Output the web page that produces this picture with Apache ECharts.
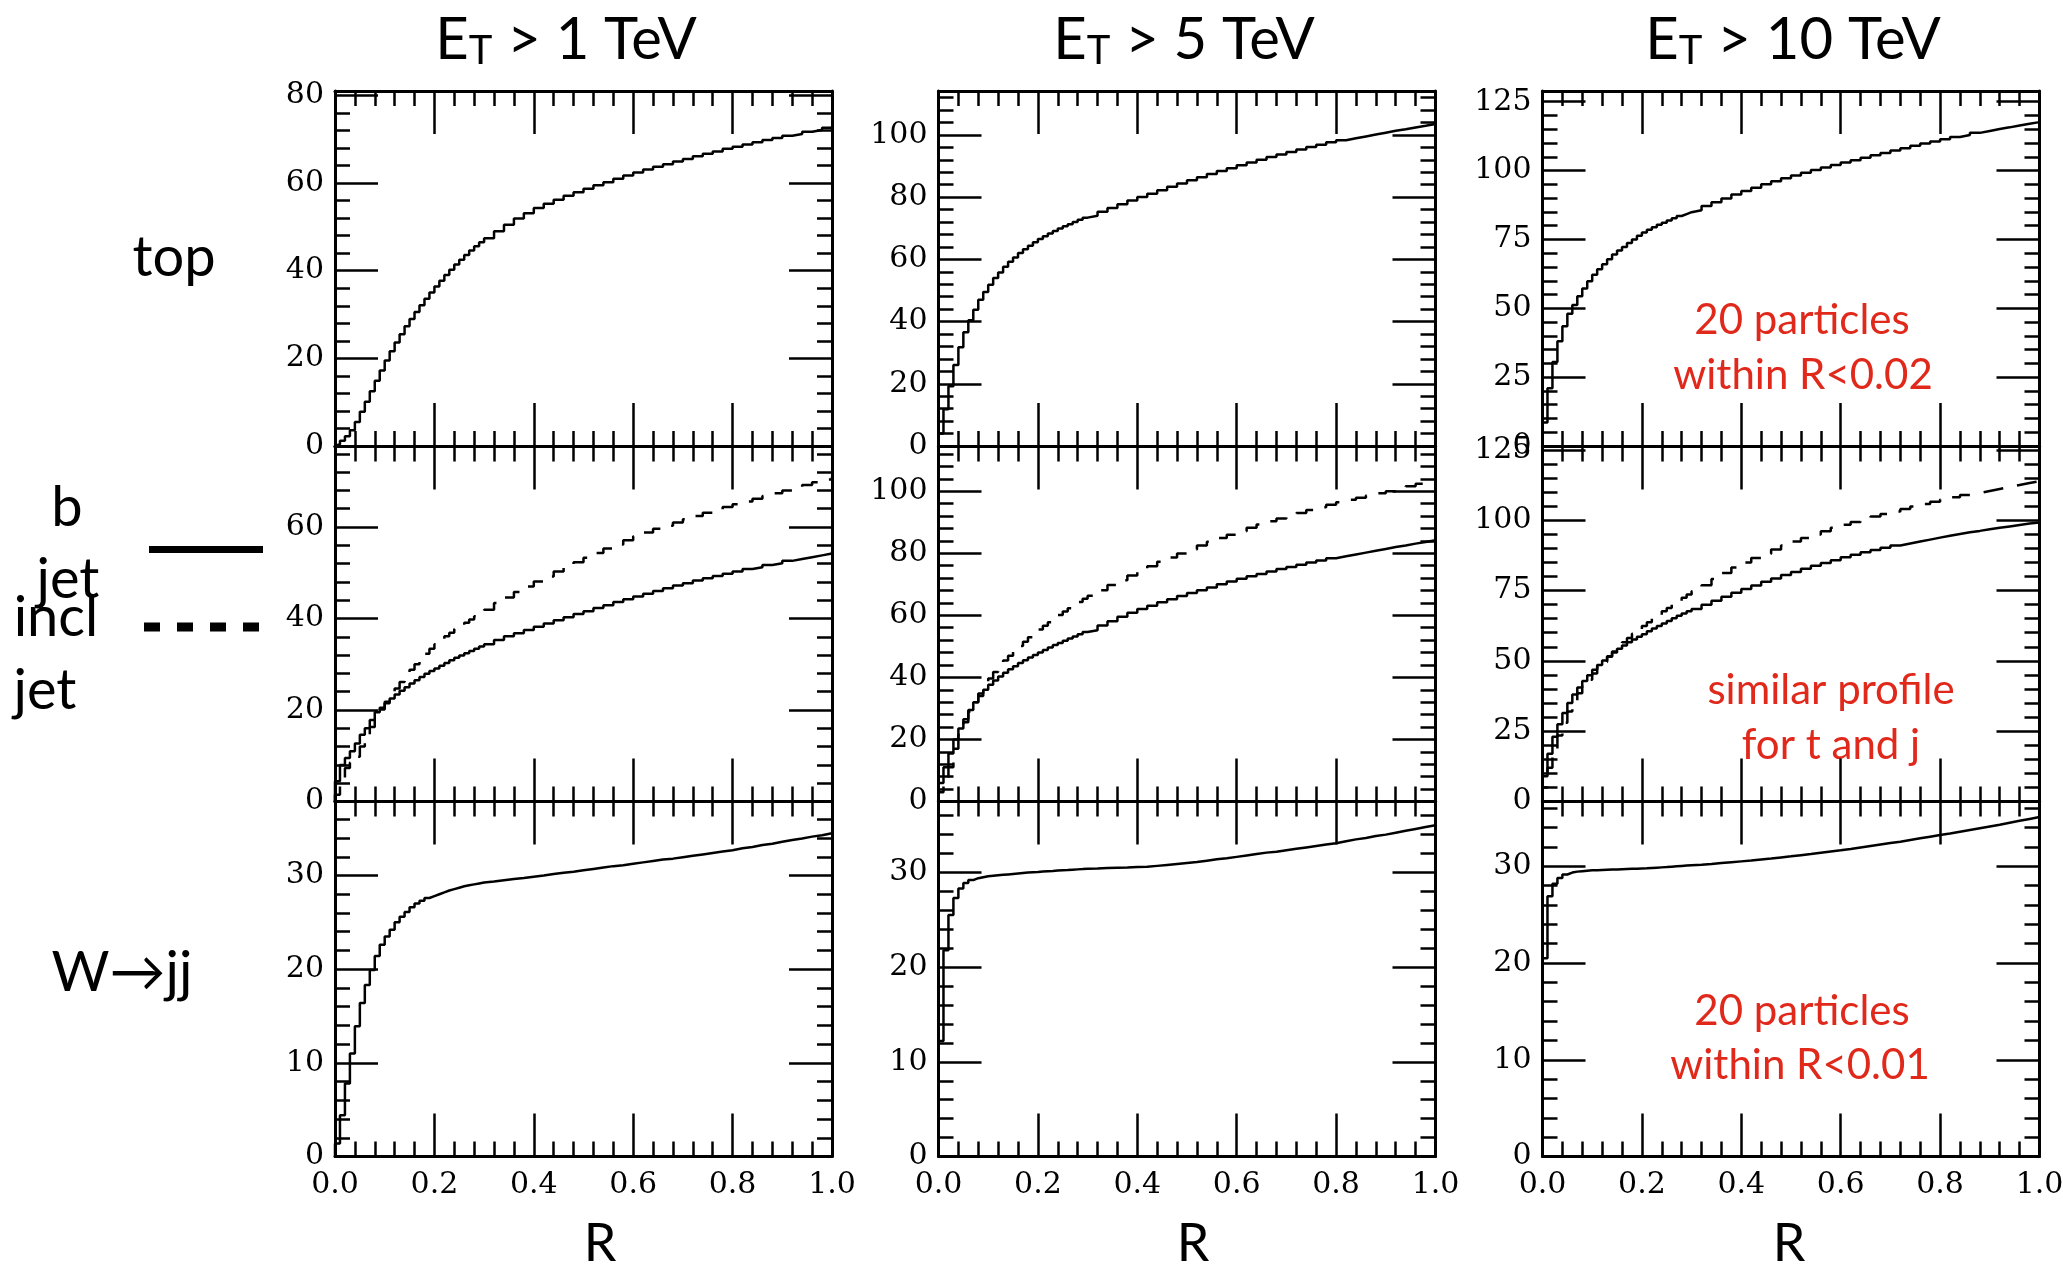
<!DOCTYPE html>
<html><head><meta charset="utf-8">
<script src="https://cdn.jsdelivr.net/npm/echarts@6/dist/echarts.min.js"></script>
<style>html,body{margin:0;padding:0;background:#fff}#c{width:2063px;height:1272px}</style>
</head><body><div id="c"></div>
<script>
// R bin edges
const R = [0,0.01,0.02,0.03,0.04,0.05,0.06,0.07,0.08,0.09,0.1,0.11,0.12,0.13,0.14,0.15,0.16,0.17,0.18,0.19,0.2,0.21,0.22,0.23,0.24,0.25,0.26,0.27,0.28,0.29,0.3,0.32,0.34,0.36,0.38,0.4,0.42,0.44,0.46,0.48,0.5,0.52,0.54,0.56,0.58,0.6,0.62,0.64,0.66,0.68,0.7,0.72,0.74,0.76,0.78,0.8,0.82,0.84,0.86,0.88,0.9,0.92,0.94,0.96,0.98,1];

// top quark jets
const top1 = [0.4,1.2,2.2,3.6,5.5,7.8,10.1,12.5,14.9,17.2,19.5,21.6,23.6,25.5,27.3,29,30.6,32.1,33.6,35,36.4,37.7,39,40.2,41.4,42.5,43.6,44.6,45.6,46.5,47.4,49,50.5,51.9,53.1,54.3,55.3,56.2,57.1,57.9,58.7,59.5,60.2,61,61.7,62.4,63.1,63.7,64.3,64.9,65.5,66.1,66.7,67.2,67.8,68.3,68.8,69.3,69.8,70.3,70.8,71.2,71.7,72.1,72.6,73];
const top5 = [4,11.8,19.2,26,31.7,36.6,40.4,43.8,47,49.5,51.8,54,55.8,57.6,59.2,60.6,62,63.2,64.4,65.5,66.5,67.4,68.3,69.1,69.9,70.6,71.3,72,72.7,73.4,74,75.3,76.5,77.7,78.9,80,81.1,82.2,83.3,84.4,85.4,86.4,87.4,88.4,89.3,90.2,91.1,92,92.9,93.7,94.5,95.3,96.1,96.8,97.6,98.3,98.9,99.5,100.1,100.7,101.3,101.8,102.4,102.9,103.5,104];
const top10 = [8.5,21,30.5,38,43.5,48,51.2,54.4,57.2,59.8,62.2,64.2,66,67.8,69.5,71,72.3,73.7,75,76.3,77.5,78.5,79.4,80.3,81.1,81.9,82.7,83.5,84.2,84.9,85.6,87.1,88.5,89.9,91.3,92.6,93.8,95,96.1,97.2,98.2,99.2,100.2,101.1,102,102.9,103.8,104.7,105.6,106.4,107.3,108.1,109,109.8,110.6,111.4,112.2,112.9,113.7,114.4,115.1,115.7,116.4,117,117.6,118.2];

// b jets (solid) and inclusive jets (dashed)
const b1 = [4.4,8,9.5,11,12.7,14.6,16,17.8,19.5,20.5,21.5,22.5,23.4,24.2,25,25.8,26.5,27.2,27.9,28.5,29.1,29.7,30.3,30.9,31.4,31.9,32.4,32.9,33.4,33.9,34.4,35.3,36.1,36.8,37.5,38.2,38.9,39.6,40.3,41,41.6,42.3,42.9,43.6,44.2,44.8,45.4,46,46.6,47.2,47.7,48.3,48.8,49.3,49.8,50.3,50.8,51.2,51.7,52.1,52.6,53,53.4,53.8,54.2,54.6];
const incl1 = [1.5,4.5,7.3,8.5,9.8,12,14.2,16.3,18.3,20.1,21.8,23.3,24.7,26.1,27.5,28.8,30,31.2,32.3,33.4,34.4,35.3,36.1,36.9,37.7,38.4,39.1,39.8,40.5,41.2,41.9,43.4,44.6,45.8,47,48.1,49.2,50.3,51.3,52.3,53.3,54.3,55.3,56.2,57.1,58,58.8,59.6,60.3,61,61.7,62.4,63.1,63.7,64.4,65,65.6,66.2,66.8,67.4,68,68.6,69.2,69.8,70.4,71];
const b5 = [6,11,15.5,20,23.5,26.5,29.5,32,34,36,37.6,39,40.3,41.5,42.6,43.6,44.6,45.5,46.4,47.2,48,48.8,49.6,50.4,51.1,51.8,52.5,53.2,53.9,54.6,55.2,56.7,58.1,59.5,60.8,62,63.1,64.2,65.2,66.2,67.2,68.1,69,70,70.9,71.8,72.6,73.3,74.1,74.9,75.6,76.3,77,77.7,78.4,79,79.6,80.2,80.8,81.4,82,82.5,83.1,83.6,84.2,84.7];
const incl5 = [3,7,11,17,21.5,25.5,29,32,34.8,37.3,39.6,41.7,43.6,45.4,47,48.6,50.1,51.5,52.9,54.2,55.4,56.6,57.8,59,60.1,61.2,62.3,63.3,64.3,65.3,66.3,68.1,69.8,71.3,72.8,74.3,75.8,77.3,78.6,79.9,81.2,82.5,83.7,84.9,86,87.1,88.2,89.3,90.3,91.2,92.1,93,93.9,94.8,95.6,96.4,97.2,97.9,98.6,99.3,100,100.8,101.6,102.4,103.2,104];
const b10 = [9,17,23,27.5,31.5,35,38,40.5,42.8,44.9,46.8,48.5,50.1,51.6,53,54.3,55.5,56.6,57.6,58.6,59.5,60.5,61.5,62.4,63.3,64.2,65.1,66,66.8,67.6,68.4,69.9,71.4,72.8,74.2,75.5,76.8,78.1,79.3,80.5,81.6,82.7,83.8,84.8,85.8,86.8,87.7,88.6,89.4,90.2,91,91.7,92.4,93.1,93.8,94.5,95.1,95.7,96.2,96.8,97.3,97.8,98.3,98.8,99.2,99.7];
const incl10 = [5,12,18,23.5,28,32,35.5,38.5,41,43.3,45.5,47.6,49.6,51.5,53.3,55,56.6,58.1,59.6,61,62.4,63.7,65,66.3,67.6,68.8,70,71.2,72.4,73.6,74.7,76.9,79.1,81.2,83.2,85,86.6,88.1,89.6,91,92.4,93.7,94.9,96.1,97.3,98.4,99.4,100.4,101.3,102.2,103.1,104,104.9,105.8,106.6,107.4,108.2,109,109.7,110.4,111.1,111.8,112.5,113.2,113.9,114.6];

// W -> jj
const w1 = [1.4,4.4,7.8,11,13.9,16.4,18.3,19.9,21.4,22.6,23.5,24.2,25,25.6,26.1,26.6,27,27.3,27.6,27.8,28,28.2,28.4,28.55,28.7,28.85,28.95,29.05,29.15,29.25,29.35,29.5,29.62,29.74,29.87,30,30.15,30.3,30.4,30.55,30.7,30.85,31,31.1,31.25,31.4,31.55,31.7,31.8,31.95,32.1,32.25,32.4,32.55,32.7,32.9,33.05,33.25,33.4,33.6,33.8,33.95,34.15,34.3,34.5,34.7];
const w5 = [12.2,21.8,25.5,27.3,28.3,28.9,29.2,29.4,29.5,29.6,29.65,29.7,29.75,29.8,29.85,29.9,29.95,30,30.03,30.06,30.1,30.13,30.16,30.2,30.23,30.26,30.3,30.33,30.36,30.4,30.43,30.47,30.5,30.53,30.57,30.6,30.7,30.8,30.9,31,31.1,31.25,31.4,31.5,31.65,31.8,31.95,32.1,32.2,32.35,32.5,32.65,32.8,32.95,33.1,33.3,33.5,33.65,33.85,34,34.2,34.4,34.6,34.8,35,35.2];
const w10 = [20.5,26.9,28.2,28.8,29.15,29.35,29.45,29.5,29.55,29.58,29.6,29.62,29.64,29.66,29.68,29.7,29.72,29.74,29.76,29.78,29.8,29.83,29.86,29.89,29.92,29.96,30,30.04,30.08,30.12,30.16,30.24,30.33,30.42,30.51,30.6,30.7,30.8,30.92,31.03,31.15,31.27,31.4,31.53,31.66,31.8,31.95,32.1,32.25,32.4,32.55,32.72,32.89,33.06,33.23,33.4,33.58,33.76,33.94,34.12,34.3,34.5,34.7,34.9,35.1,35.3];

// axis ranges / tick steps per panel [row][col]
const yMax = [[81,114.1,128.9],[77.6,114.4,126.2],[37.9,37.5,36.7]];
const yStep = [[20,20,25],[20,20,25],[10,10,10]];
const xTicks = [0,0.2,0.4,0.6,0.8,1.0];

const titles = ['{e|E}{t|T}{e| > 1 TeV}','{e|E}{t|T}{e| > 5 TeV}','{e|E}{t|T}{e| > 10 TeV}'];

const panels = [
  [[top1],[top5],[top10]],
  [[b1,incl1],[b5,incl5],[b10,incl10]],
  [[w1],[w5],[w10]]
];

const colLeft = [335, 938.5, 1542.5], colW = 497;
const rowTop = [91, 446.5, 801.5], rowH = 355;

const BLACK = '#000';
const RED = '#e0281b';
const SANS = 'Lato, "Open Sans", "DejaVu Sans", sans-serif';
const SERIF = '"DejaVu Serif", "Liberation Serif", serif';

function yAx(gi, pos, max, iv, showLabel) {
  return {
    type: 'value', gridIndex: gi, position: pos, min: 0, max: max, interval: iv,
    axisLine: {show: true, onZero: false, lineStyle: {color: BLACK, width: 3}},
    axisTick: {show: true, inside: true, length: 43, lineStyle: {color: BLACK, width: 2.5}},
    minorTick: {show: true, splitNumber: 5, length: 15, lineStyle: {color: BLACK, width: 2.5}},
    splitLine: {show: false}, minorSplitLine: {show: false},
    axisLabel: {show: showLabel, margin: 11, color: BLACK, fontFamily: SERIF, fontSize: 30,
      formatter: function (v) { const k = v / iv; return Math.abs(k - Math.round(k)) < 1e-6 ? String(Math.round(v)) : ''; }}
  };
}
function xAx(gi, pos, showLabel) {
  return {
    type: 'value', gridIndex: gi, position: pos, min: xTicks[0], max: xTicks[xTicks.length - 1], interval: 0.2,
    axisLine: {show: true, onZero: false, lineStyle: {color: BLACK, width: 3}},
    axisTick: {show: true, inside: true, length: 43, lineStyle: {color: BLACK, width: 2.5}},
    minorTick: {show: true, splitNumber: 5, length: 15, lineStyle: {color: BLACK, width: 2.5}},
    splitLine: {show: false}, minorSplitLine: {show: false},
    axisLabel: {show: showLabel, margin: 14, color: BLACK, fontFamily: SERIF, fontSize: 30,
      formatter: function (v) { return v.toFixed(1); }}
  };
}
function pts(vals) {
  const out = [[0, 0]];
  for (let i = 0; i < R.length; i++) out.push([R[i], vals[i]]);
  return out;
}

const grid = [], xAxis = [], yAxis = [], series = [];
for (let r = 0; r < 3; r++) {
  for (let c = 0; c < 3; c++) {
    const gi = r * 3 + c;
    grid.push({left: colLeft[c], top: rowTop[r], width: colW, height: rowH, containLabel: false, outerBoundsMode: 'none'});
    xAxis.push(xAx(gi, 'bottom', r === 2));
    xAxis.push(xAx(gi, 'top', false));
    yAxis.push(yAx(gi, 'left', yMax[r][c], yStep[r][c], true));
    yAxis.push(yAx(gi, 'right', yMax[r][c], yStep[r][c], false));
    panels[r][c].forEach(function (vals, k) {
      series.push({
        type: 'line', xAxisIndex: 2 * gi, yAxisIndex: 2 * gi, data: pts(vals), step: 'end',
        symbol: 'none', showSymbol: false, silent: true, clip: true, animation: false,
        lineStyle: {color: BLACK, width: 2.5, type: k === 1 ? [20, 14] : 'solid'}
      });
    });
  }
}

function txt(text, x, y, size, color, align) {
  return {type: 'text', x: x, y: y, silent: true,
    style: {text: text, fill: color || BLACK, fontSize: size, fontFamily: SANS,
      align: align || 'center', verticalAlign: 'middle'}};
}
const titleX = [566, 1184, 1793];
const graphic = [];
titles.forEach(function (t, i) {
  graphic.push({type: 'text', x: titleX[i], y: 40, silent: true,
    style: {text: t, align: 'center', verticalAlign: 'middle', fill: BLACK,
      rich: {
        e: {fontSize: 58, fontFamily: SANS, lineHeight: 63, fill: BLACK},
        t: {fontSize: 40, fontFamily: SANS, lineHeight: 40, verticalAlign: 'bottom', fill: BLACK}
      }}});
});
graphic.push(txt('top', 174, 258, 56));
graphic.push(txt('b', 67, 508, 56));
graphic.push(txt('jet', 68, 580, 56));
graphic.push(txt('incl', 56, 618, 56));
graphic.push(txt('jet', 45, 691, 56));
graphic.push(txt('W\u2192jj', 122, 973, 56));
graphic.push(txt('R', 600, 1244, 52));
graphic.push(txt('R', 1193, 1244, 52));
graphic.push(txt('R', 1789, 1244, 52));
graphic.push(txt('20 particles', 1802, 320, 42, RED));
graphic.push(txt('within R<0.02', 1803, 375, 42, RED));
graphic.push(txt('similar profile', 1831, 690, 42, RED));
graphic.push(txt('for t and j', 1831, 745, 42, RED));
graphic.push(txt('20 particles', 1802, 1011, 42, RED));
graphic.push(txt('within R<0.01', 1800, 1065, 42, RED));
graphic.push({type: 'line', silent: true, shape: {x1: 149, y1: 549.5, x2: 263, y2: 549.5}, style: {stroke: BLACK, lineWidth: 7}});
graphic.push({type: 'line', silent: true, shape: {x1: 144, y1: 627, x2: 259, y2: 627}, style: {stroke: BLACK, lineWidth: 9, lineDash: [16, 17]}});

const chart = echarts.init(document.getElementById('c'), null, {renderer: 'canvas'});
chart.setOption({
  animation: false,
  backgroundColor: '#fff',
  grid: grid, xAxis: xAxis, yAxis: yAxis, series: series, graphic: graphic
});
</script></body></html>
